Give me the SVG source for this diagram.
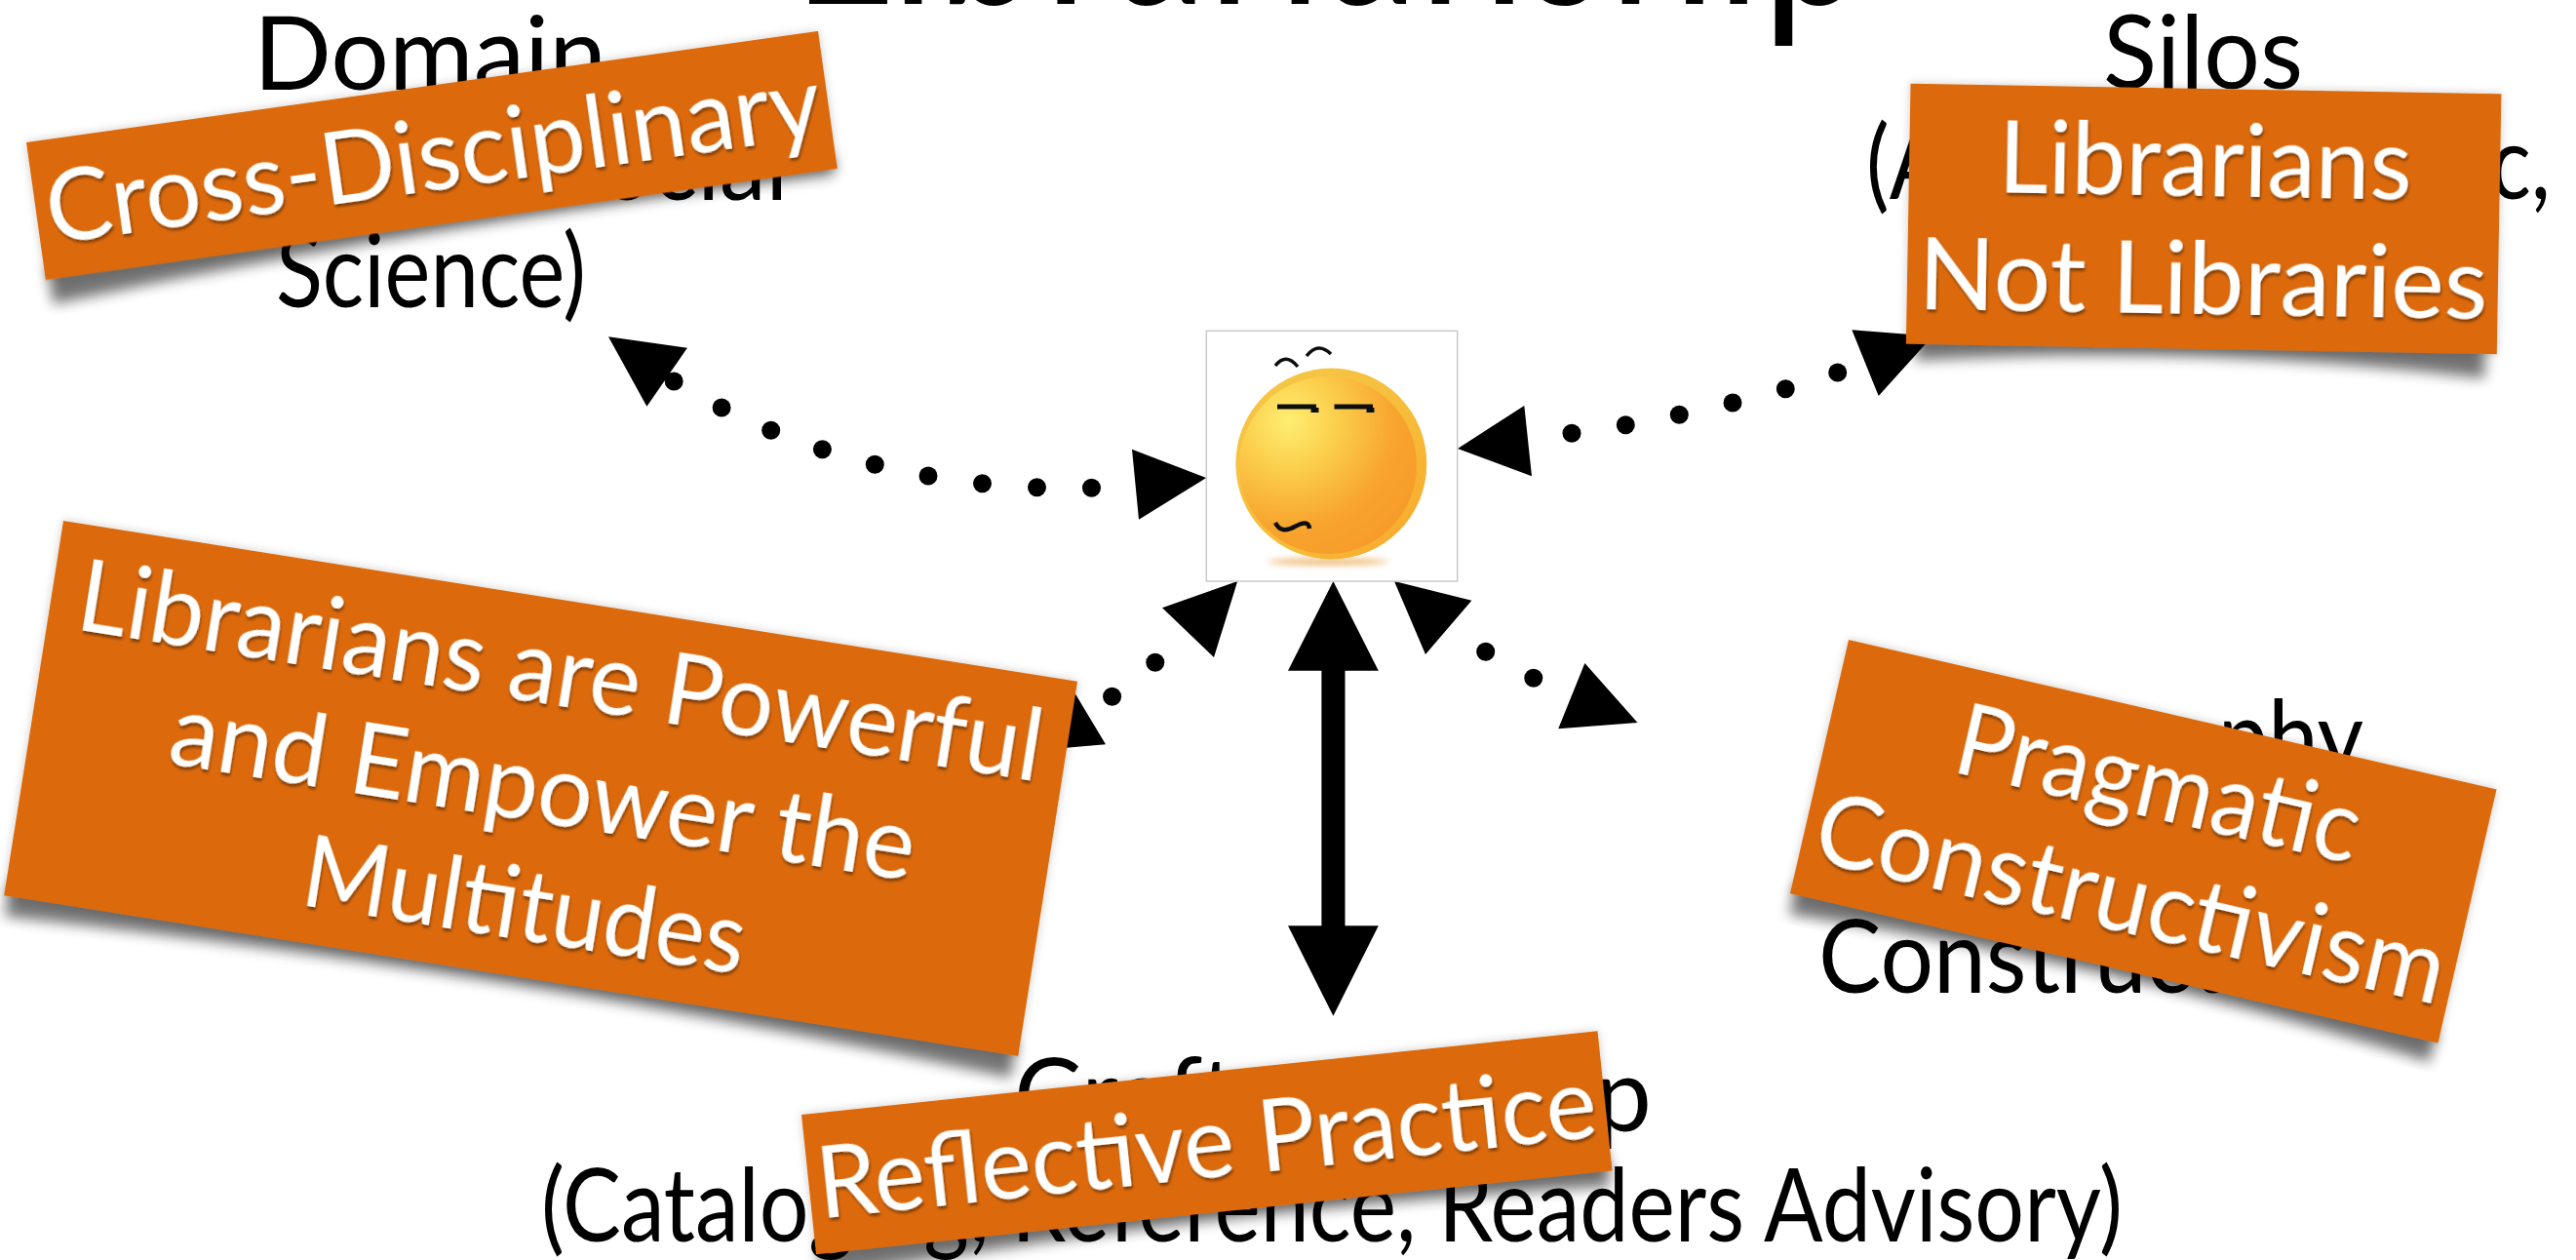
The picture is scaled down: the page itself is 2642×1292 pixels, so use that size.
<svg xmlns="http://www.w3.org/2000/svg" width="2642" height="1292" viewBox="0 0 2642 1292">
  <style>
    text { font-family: "Lato", "Liberation Sans", sans-serif; }
    .body { font-size: 105px; fill: #000; }
    .title { font-size: 250px; fill: #000; }
    .lab { font-size: 103px; fill: #fff; text-anchor: middle; filter: url(#textShadow); }
    .box { fill: #DC6A10; filter: url(#glow); }
    .curl { fill: #000; opacity: .55; filter: url(#blur); }
    .head { fill: #000; }
    .dot { fill: #000; }
  </style>
  <defs>
    <filter id="textShadow" x="-5%" y="-20%" width="110%" height="150%">
      <feDropShadow dx="1" dy="3" stdDeviation="1.6" flood-color="#000" flood-opacity=".45"/>
    </filter>
    <filter id="glow" x="-5%" y="-10%" width="110%" height="120%">
      <feDropShadow dx="0" dy="0" stdDeviation="5" flood-color="#000" flood-opacity=".2"/>
    </filter>
    <filter id="blur" x="-5%" y="-30%" width="110%" height="160%">
      <feGaussianBlur stdDeviation="7"/>
    </filter>
    <filter id="softer" x="-30%" y="-200%" width="160%" height="500%">
      <feGaussianBlur stdDeviation="3"/>
    </filter>
    <filter id="ink" x="-20%" y="-50%" width="140%" height="200%">
      <feGaussianBlur stdDeviation=".7"/>
    </filter>
    <radialGradient id="faceFill" gradientUnits="userSpaceOnUse" cx="1322" cy="432" r="160">
      <stop offset="0" stop-color="#FFEE72"/>
      <stop offset=".32" stop-color="#FBCD4A"/>
      <stop offset=".68" stop-color="#F8A42E"/>
      <stop offset="1" stop-color="#F79A2A"/>
    </radialGradient>
    <linearGradient id="rimFill" x1="0" y1="0" x2="1" y2="1">
      <stop offset="0" stop-color="#F6C84A"/>
      <stop offset=".6" stop-color="#F6BC38"/>
      <stop offset="1" stop-color="#F9A62C"/>
    </linearGradient>
  </defs>

  <g id="title"><text class="title" x="812" y="4" textLength="1105" lengthAdjust="spacingAndGlyphs">Librarianship</text></g>

  <g id="node-domain">
    <text class="body" x="260" y="92" textLength="362" lengthAdjust="spacingAndGlyphs">Domain</text>
    <text class="body" x="564" y="205" textLength="244" lengthAdjust="spacingAndGlyphs">Social</text>
    <text class="body" x="283" y="315" textLength="318" lengthAdjust="spacingAndGlyphs">Science)</text>
  </g>
  <g id="node-silos">
    <text class="body" x="2157" y="91" textLength="205" lengthAdjust="spacingAndGlyphs">Silos</text>
    <text class="body" x="1914" y="204" textLength="702" lengthAdjust="spacingAndGlyphs">(Academic, Public,</text>
  </g>
  <g id="node-philosophy">
    <text class="body" x="1980" y="793" textLength="444" lengthAdjust="spacingAndGlyphs">Philosophy</text>
    <text class="body" x="1865" y="1018" textLength="636" lengthAdjust="spacingAndGlyphs">Constructivism</text>
  </g>
  <g id="node-craftsmanship">
    <text class="body" x="1040" y="1160" textLength="654" lengthAdjust="spacingAndGlyphs">Craftsmanship</text>
    <text class="body" x="555" y="1273" textLength="1622" lengthAdjust="spacingAndGlyphs">(Cataloging, Reference, Readers Advisory)</text>
  </g>

  <g id="connectors">
    <g id="conn-domain">
      <polygon class="head" points="624,345.3 704.9,356.7 663.4,416.7"/>
      <circle class="dot" cx="691.2" cy="391" r="9.5"/><circle class="dot" cx="740.1" cy="418" r="9.5"/><circle class="dot" cx="790.7" cy="441.3" r="9.5"/><circle class="dot" cx="843.4" cy="460.7" r="9.5"/><circle class="dot" cx="897.3" cy="476.3" r="9.5"/><circle class="dot" cx="952" cy="488" r="9.5"/><circle class="dot" cx="1007.5" cy="495.7" r="9.5"/><circle class="dot" cx="1063.5" cy="499.7" r="9.5"/><circle class="dot" cx="1119.5" cy="500.3" r="9.5"/>
      <polygon class="head" points="1161,460.7 1237.2,490 1168,532.7"/>
    </g>
    <g id="conn-silos">
      <polygon class="head" points="1495,460 1563.3,416 1571,488.3"/>
      <circle class="dot" cx="1612" cy="444.3" r="9.5"/><circle class="dot" cx="1667.3" cy="435.7" r="9.5"/><circle class="dot" cx="1722.3" cy="425.3" r="9.5"/><circle class="dot" cx="1777" cy="413" r="9.5"/><circle class="dot" cx="1831.3" cy="398.7" r="9.5"/><circle class="dot" cx="1884.7" cy="382" r="9.5"/>
      <polygon class="head" points="1899.3,338.3 1982,344.7 1926.7,406"/>
    </g>
    <g id="conn-power">
      <polygon class="head" points="1269.2,596 1192,623.3 1245,674"/>
      <circle class="dot" cx="1184.8" cy="679.3" r="9.5"/><circle class="dot" cx="1140.6" cy="714.3" r="9.5"/>
      <polygon class="head" points="1134,763.3 1085,767.5 1097.8,703"/>
    </g>
    <g id="conn-craft">
      <polygon class="head" points="1367.4,596 1413.8,687.7 1379.5,687.7 1379.5,949.3 1413.8,949.3 1367.4,1041.7 1321,949.3 1355.4,949.3 1355.4,687.7 1321,687.7"/>
    </g>
    <g id="conn-philosophy">
      <polygon class="head" points="1430,596 1509.4,615.7 1462,671"/>
      <circle class="dot" cx="1523.7" cy="668.3" r="9.5"/><circle class="dot" cx="1572.8" cy="695.3" r="9.5"/>
      <polygon class="head" points="1625.4,680 1679.5,741 1598.2,747.3"/>
    </g>
  </g>

  <g id="node-face">
    <rect x="1237.3" y="339.3" width="257.4" height="256.7" fill="#fff" stroke="#c9c9c9" stroke-width="1.5"/>
    <ellipse cx="1362" cy="576" rx="62" ry="3.5" fill="#E8A040" opacity=".7" filter="url(#softer)"/>
    <circle cx="1365.3" cy="475.5" r="98" fill="url(#rimFill)"/>
    <circle cx="1362" cy="477" r="91" fill="url(#faceFill)"/>
    <g fill="none" stroke="#111" filter="url(#ink)">
      <path d="M1310,417 H1350" stroke-width="5"/>
      <path d="M1368.5,417 H1408" stroke-width="5"/>
      <path d="M1348.5,418 V423" stroke-width="8"/>
      <path d="M1405.5,418 V423" stroke-width="8"/>
      <path d="M1308,375 Q1319,361 1331,376" stroke-width="3.5"/>
      <path d="M1340,365 Q1352,350 1365,363" stroke-width="3.5"/>
      <path d="M1308,536 Q1314,548 1328,540 T1343,542" stroke-width="4.5"/>
    </g>
  </g>

  <g id="node-cross" transform="translate(27,146) rotate(-8)">
    <path class="curl" d="M4,130 H816 V148 Q410,140 4,168 Z"/>
    <rect class="box" width="820" height="142.4"/>
    <text class="lab" x="411" y="107" textLength="801" lengthAdjust="spacingAndGlyphs">Cross-Disciplinary</text>
  </g>
  <g id="node-notlibraries" transform="translate(1959.5,85.7) rotate(1)">
    <path class="curl" d="M10,255 H594 V292 Q300,262 10,284 Z"/>
    <rect class="box" width="606" height="267"/>
    <text class="lab" x="303.5" y="110" textLength="424" lengthAdjust="spacingAndGlyphs">Librarians</text>
    <text class="lab" x="303.5" y="231" textLength="584" lengthAdjust="spacingAndGlyphs">Not Libraries</text>
  </g>
  <g id="node-pragmatic" transform="translate(1896,656) rotate(13)">
    <path class="curl" d="M4,255 H678 V288 Q340,262 4,288 Z"/>
    <rect class="box" width="682" height="267"/>
    <text class="lab" x="343" y="108" textLength="422" lengthAdjust="spacingAndGlyphs">Pragmatic</text>
    <text class="lab" x="342" y="229" textLength="660" lengthAdjust="spacingAndGlyphs">Constructivism</text>
  </g>
  <g id="node-powerful" transform="translate(65,534) rotate(9)">
    <path class="curl" d="M4,377 H1049 V412 Q530,384 4,410 Z"/>
    <rect class="box" width="1053" height="389"/>
    <text class="lab" x="528" y="108" textLength="1000" lengthAdjust="spacingAndGlyphs">Librarians are Powerful</text>
    <text class="lab" x="529" y="229" textLength="772" lengthAdjust="spacingAndGlyphs">and Empower the</text>
    <text class="lab" x="529" y="351" textLength="458" lengthAdjust="spacingAndGlyphs">Multitudes</text>
  </g>
  <g id="node-reflective" transform="translate(822,1143) rotate(-6)">
    <path class="curl" d="M4,132 H817 V160 Q410,140 4,168 Z"/>
    <rect class="box" width="821" height="144"/>
    <text class="lab" x="410" y="108" textLength="803" lengthAdjust="spacingAndGlyphs">Reflective Practice</text>
  </g>
</svg>
